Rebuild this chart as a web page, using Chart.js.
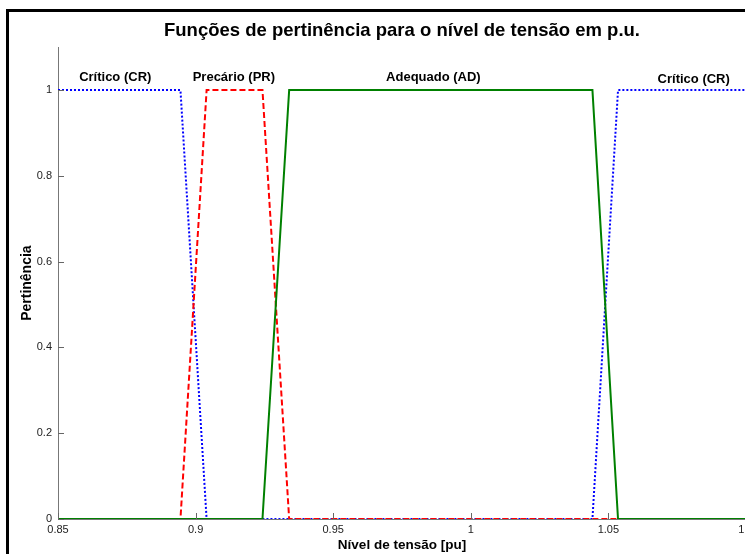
<!DOCTYPE html>
<html>
<head>
<meta charset="utf-8">
<script src="https://cdn.jsdelivr.net/npm/chart.js@4/dist/chart.umd.min.js"></script>
<style>
html, body { margin: 0; padding: 0; background: #fff; overflow: hidden; }
#wrap { position: relative; width: 770px; height: 554px; }
#frame { position: absolute; left: 6px; top: 9px; right: 0; bottom: -10px; border-left: 3px solid #000; border-top: 3px solid #000; pointer-events: none; }
</style>
</head>
<body>
<div id="wrap">
  <canvas id="chart" width="770" height="554"></canvas>
  <div id="frame"></div>
</div>
<script>
// ticks
var xTicks = [0.85, 0.9, 0.95, 1, 1.05, 1.1];
var xTickLabels = ['0.85', '0.9', '0.95', '1', '1.05', '1.1'];
var yTicks = [0, 0.2, 0.4, 0.6, 0.8, 1];
var yTickLabels = ['0', '0.2', '0.4', '0.6', '0.8', '1'];

// Critico (CR)
var crX = [0.85, 0.8945, 0.904, 1.0442, 1.0535, 1.1];
var crY = [1, 1, 0, 0, 1, 1];
// Precario (PR)
var prX = [0.85, 0.8945, 0.904, 0.9243, 0.934, 1.1];
var prY = [0, 0, 1, 1, 0, 0];
// Adequado (AD)
var adX = [0.85, 0.9243, 0.934, 1.0442, 1.0535, 1.1];
var adY = [0, 0, 1, 1, 0, 0];

// textos sobre as curvas
var labelText = ['Crítico (CR)', 'Precário (PR)', 'Adequado (AD)', 'Crítico (CR)'];
var labelX = [0.8708, 0.9139, 0.9864, 1.081];
var labelY = [1.03, 1.03, 1.03, 1.025];

var FONT = '"Liberation Sans", Arial, sans-serif';

function pts(xs, ys) {
  return xs.map(function (x, i) { return { x: x, y: ys[i] }; });
}

// marcas dos ticks para dentro (estilo matlab) + textos
var extras = {
  id: 'extras',
  afterDatasetsDraw: function (chart) {
    var c = chart.ctx, xs = chart.scales.x, ys = chart.scales.y;
    var a = chart.chartArea;
    c.save();
    c.strokeStyle = '#666';
    c.lineWidth = 1;
    c.beginPath();
    xTicks.forEach(function (v) {
      var px = Math.round(xs.getPixelForValue(v)) + 0.5;
      c.moveTo(px, a.bottom);
      c.lineTo(px, a.bottom - 6);
    });
    yTicks.forEach(function (v) {
      var py = Math.round(ys.getPixelForValue(v)) + 0.5;
      c.moveTo(a.left, py);
      c.lineTo(a.left + 6, py);
    });
    c.stroke();
    c.fillStyle = '#000';
    c.font = 'bold 13px ' + FONT;
    c.textAlign = 'center';
    c.textBaseline = 'middle';
    labelText.forEach(function (t, i) {
      c.fillText(t, xs.getPixelForValue(labelX[i]), ys.getPixelForValue(labelY[i]));
    });
    c.restore();
  }
};

var ctx = document.getElementById('chart');

new Chart(ctx, {
  type: 'line',
  data: {
    datasets: [{
      label: 'Crítico (CR)',
      data: pts(crX, crY),
      borderColor: '#0000ff',
      borderWidth: 2,
      borderDash: [2, 2],
      order: 2
    }, {
      label: 'Precário (PR)',
      data: pts(prX, prY),
      borderColor: '#ff0000',
      borderWidth: 2,
      borderDash: [6, 3],
      order: 1
    }, {
      label: 'Adequado (AD)',
      data: pts(adX, adY),
      borderColor: '#008000',
      borderWidth: 2,
      order: 0
    }]
  },
  options: {
    responsive: false,
    animation: false,
    devicePixelRatio: 1,
    layout: { padding: { left: 0, right: 24, top: 0, bottom: 0 } },
    elements: { point: { radius: 0 }, line: { tension: 0, fill: false } },
    plugins: {
      legend: { display: false },
      tooltip: { enabled: false },
      title: {
        display: true,
        fullSize: false,
        text: 'Funções de pertinência para o nível de tensão em p.u.',
        color: '#000',
        font: { family: FONT, size: 18.5, weight: 'bold' },
        padding: { top: 20, bottom: 5 }
      }
    },
    scales: {
      x: {
        type: 'linear',
        min: 0.85,
        max: 1.1,
        afterFit: function (s) { s.height = 35; },
        afterBuildTicks: function (s) { s.ticks = xTicks.map(function (v) { return { value: v }; }); },
        grid: { display: false, drawTicks: false },
        border: { display: true, color: '#777' },
        ticks: {
          color: '#222',
          padding: 4,
          autoSkip: false,
          maxRotation: 0,
          font: { family: FONT, size: 11 },
          callback: function (v) { return xTickLabels[xTicks.indexOf(v)]; }
        },
        title: {
          display: true,
          text: 'Nível de tensão [pu]',
          color: '#000',
          font: { family: FONT, size: 13.5, weight: 'bold' },
          padding: { top: 0, bottom: 1 }
        }
      },
      y: {
        type: 'linear',
        min: 0,
        max: 1.1,
        afterFit: function (s) { s.width = 58; },
        afterBuildTicks: function (s) { s.ticks = yTicks.map(function (v) { return { value: v }; }); },
        grid: { display: false, drawTicks: false },
        border: { display: true, color: '#777' },
        ticks: {
          color: '#222',
          padding: 6,
          font: { family: FONT, size: 11 },
          callback: function (v) { return yTickLabels[yTicks.indexOf(v)]; }
        },
        title: {
          display: true,
          text: 'Pertinência',
          color: '#000',
          font: { family: FONT, size: 14, weight: 'bold' },
          padding: { top: 19, bottom: 0 }
        }
      }
    }
  },
  plugins: [extras]
});
</script>
</body>
</html>
